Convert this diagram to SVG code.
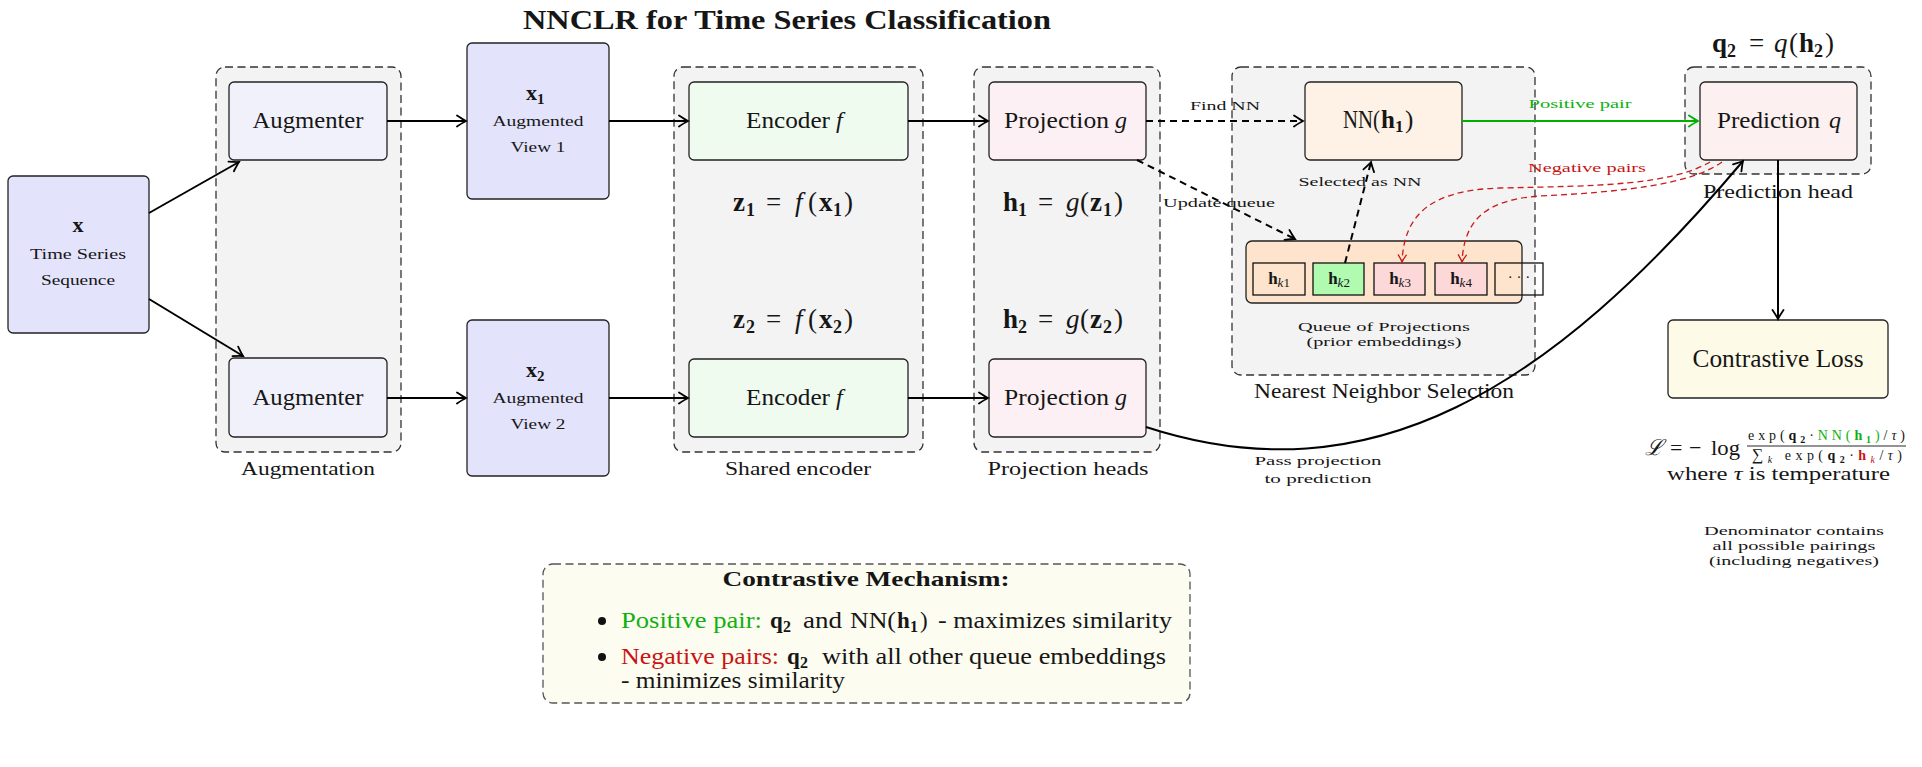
<svg xmlns="http://www.w3.org/2000/svg" width="1922" height="767" viewBox="0 0 1922 767">
<style>
.t{font-family:"Liberation Serif","DejaVu Serif",serif;fill:#161616}
.b{font-weight:bold}
.i{font-style:italic}
.cont{fill:#f3f3f3;stroke:#333;stroke-width:1.3;stroke-dasharray:8 4.5}
.box{stroke:#222;stroke-width:1.3}
.cell{stroke:#111;stroke-width:1.3}
.arr{fill:none;stroke:#000;stroke-width:2;marker-end:url(#ah)}
.dash{stroke-dasharray:7 5}
.neg{fill:none;stroke:#cc1a1a;stroke-width:1.3;stroke-dasharray:6 4;marker-end:url(#ahr)}
.pos{fill:none;stroke:#00b000;stroke-width:2.2;marker-end:url(#ahg)}
.lbl{font-size:24px}
.sm{font-size:13px}
.cap{font-size:19px}
.eq{font-size:27px}
.grn{fill:#10b010}
.red{fill:#c81414}
</style>
<defs>
<marker id="ah" viewBox="-11 -7 13 14" refX="0" refY="0" markerWidth="13" markerHeight="14" markerUnits="userSpaceOnUse" orient="auto">
<path d="M-9,-5.5 Q-3,-1.5 0,0 Q-3,1.5 -9,5.5" fill="none" stroke="#000" stroke-width="1.8" stroke-linecap="round" stroke-dasharray="none"/>
</marker>
<marker id="ahg" viewBox="-11 -7 13 14" refX="0" refY="0" markerWidth="13" markerHeight="14" markerUnits="userSpaceOnUse" orient="auto">
<path d="M-9,-5.5 Q-3,-1.5 0,0 Q-3,1.5 -9,5.5" fill="none" stroke="#00b000" stroke-width="1.9" stroke-linecap="round"/>
</marker>
<marker id="ahr" viewBox="-9 -6 11 12" refX="0" refY="0" markerWidth="11" markerHeight="12" markerUnits="userSpaceOnUse" orient="auto">
<path d="M-7,-4 Q-2.5,-1 0,0 Q-2.5,1 -7,4" fill="none" stroke="#cc1a1a" stroke-width="1.3" stroke-linecap="round" stroke-dasharray="none"/>
</marker>
</defs>
<rect width="1922" height="767" fill="#fff"/>

<text class="t b" x="787" y="29" font-size="27" text-anchor="middle" textLength="528" lengthAdjust="spacingAndGlyphs">NNCLR for Time Series Classification</text>

<!-- containers -->
<g id="augmentation-group">
<rect class="cont" x="216" y="67" width="185" height="385" rx="9"/>
<text class="t cap" x="308" y="475" text-anchor="middle" textLength="134" lengthAdjust="spacingAndGlyphs">Augmentation</text>
</g>
<g id="encoder-group">
<rect class="cont" x="674" y="67" width="249" height="385" rx="9"/>
<text class="t cap" x="798" y="475" text-anchor="middle" textLength="146" lengthAdjust="spacingAndGlyphs">Shared encoder</text>
</g>
<g id="projection-group">
<rect class="cont" x="974" y="67" width="186" height="385" rx="9"/>
<text class="t cap" x="1068" y="475" text-anchor="middle" textLength="161" lengthAdjust="spacingAndGlyphs">Projection heads</text>
</g>
<g id="nn-group">
<rect class="cont" x="1232" y="67" width="303" height="308" rx="9"/>
<text class="t" font-size="20" x="1384" y="398" text-anchor="middle" textLength="260" lengthAdjust="spacingAndGlyphs">Nearest Neighbor Selection</text>
</g>
<g id="prediction-group">
<rect class="cont" x="1685" y="67" width="186" height="107" rx="9"/>
<text class="t cap" x="1778" y="198" text-anchor="middle" textLength="150" lengthAdjust="spacingAndGlyphs">Prediction head</text>
</g>

<!-- nodes -->
<g id="input-x">
<rect class="box" x="8" y="176" width="141" height="157" rx="5" fill="#e3e3fc"/>
<text class="t b" x="78" y="232" font-size="22" text-anchor="middle">x</text>
<text class="t" x="78" y="259" font-size="14" text-anchor="middle" textLength="96" lengthAdjust="spacingAndGlyphs">Time Series</text>
<text class="t" x="78" y="285" font-size="14" text-anchor="middle" textLength="74" lengthAdjust="spacingAndGlyphs">Sequence</text>
</g>
<g id="augmenter-1">
<rect class="box" x="229" y="82" width="158" height="78" rx="5" fill="#f1f1fb"/>
<text class="t lbl" x="308" y="128" text-anchor="middle" textLength="111" lengthAdjust="spacingAndGlyphs">Augmenter</text>
</g>
<g id="augmenter-2">
<rect class="box" x="229" y="358" width="158" height="79" rx="5" fill="#f1f1fb"/>
<text class="t lbl" x="308" y="405" text-anchor="middle" textLength="111" lengthAdjust="spacingAndGlyphs">Augmenter</text>
</g>
<g id="view-1">
<rect class="box" x="467" y="43" width="142" height="156" rx="5" fill="#e3e3fc"/>
<text class="t b" y="100" font-size="22"><tspan x="526">x</tspan><tspan x="537" y="104" font-size="15">1</tspan></text>
<text class="t" x="538" y="126" font-size="14" text-anchor="middle" textLength="91" lengthAdjust="spacingAndGlyphs">Augmented</text>
<text class="t" x="538" y="152" font-size="14" text-anchor="middle" textLength="55" lengthAdjust="spacingAndGlyphs">View 1</text>
</g>
<g id="view-2">
<rect class="box" x="467" y="320" width="142" height="156" rx="5" fill="#e3e3fc"/>
<text class="t b" y="377" font-size="22"><tspan x="526">x</tspan><tspan x="537" y="381" font-size="15">2</tspan></text>
<text class="t" x="538" y="403" font-size="14" text-anchor="middle" textLength="91" lengthAdjust="spacingAndGlyphs">Augmented</text>
<text class="t" x="538" y="429" font-size="14" text-anchor="middle" textLength="55" lengthAdjust="spacingAndGlyphs">View 2</text>
</g>
<g id="encoder-1">
<rect class="box" x="689" y="82" width="219" height="78" rx="5" fill="#f0fbf0"/>
<text class="t lbl" y="128"><tspan x="746" textLength="84" lengthAdjust="spacingAndGlyphs">Encoder</tspan><tspan x="836" class="i">f</tspan></text>
</g>
<g id="encoder-2">
<rect class="box" x="689" y="359" width="219" height="78" rx="5" fill="#f0fbf0"/>
<text class="t lbl" y="405"><tspan x="746" textLength="84" lengthAdjust="spacingAndGlyphs">Encoder</tspan><tspan x="836" class="i">f</tspan></text>
</g>
<g id="eq-z">
<text class="t eq" y="211"><tspan x="733" class="b">z</tspan><tspan x="746" y="216" class="b" font-size="18">1</tspan><tspan x="766" y="211">=</tspan><tspan x="795" class="i">f</tspan><tspan x="808">(</tspan><tspan x="819" class="b">x</tspan><tspan x="833" y="216" class="b" font-size="18">1</tspan><tspan x="844" y="211">)</tspan></text>
<text class="t eq" y="328"><tspan x="733" class="b">z</tspan><tspan x="746" y="333" class="b" font-size="18">2</tspan><tspan x="766" y="328">=</tspan><tspan x="795" class="i">f</tspan><tspan x="808">(</tspan><tspan x="819" class="b">x</tspan><tspan x="833" y="333" class="b" font-size="18">2</tspan><tspan x="844" y="328">)</tspan></text>
</g>
<g id="projection-1">
<rect class="box" x="989" y="82" width="157" height="78" rx="5" fill="#fcf0f4"/>
<text class="t lbl" y="128"><tspan x="1004" textLength="105" lengthAdjust="spacingAndGlyphs">Projection</tspan><tspan x="1115" class="i">g</tspan></text>
</g>
<g id="projection-2">
<rect class="box" x="989" y="359" width="157" height="78" rx="5" fill="#fcf0f4"/>
<text class="t lbl" y="405"><tspan x="1004" textLength="105" lengthAdjust="spacingAndGlyphs">Projection</tspan><tspan x="1115" class="i">g</tspan></text>
</g>
<g id="eq-h">
<text class="t eq" y="211"><tspan x="1003" class="b">h</tspan><tspan x="1018" y="216" class="b" font-size="18">1</tspan><tspan x="1038" y="211">=</tspan><tspan x="1066" class="i">g</tspan><tspan x="1080">(</tspan><tspan x="1090" class="b">z</tspan><tspan x="1103" y="216" class="b" font-size="18">1</tspan><tspan x="1114" y="211">)</tspan></text>
<text class="t eq" y="328"><tspan x="1003" class="b">h</tspan><tspan x="1018" y="333" class="b" font-size="18">2</tspan><tspan x="1038" y="328">=</tspan><tspan x="1066" class="i">g</tspan><tspan x="1080">(</tspan><tspan x="1090" class="b">z</tspan><tspan x="1103" y="333" class="b" font-size="18">2</tspan><tspan x="1114" y="328">)</tspan></text>
</g>
<g id="nn-h1">
<rect class="box" x="1305" y="82" width="157" height="78" rx="5" fill="#fef1e5"/>
<text class="t" font-size="25" y="128"><tspan x="1343" textLength="37" lengthAdjust="spacingAndGlyphs">NN(</tspan><tspan x="1381" class="b">h</tspan><tspan x="1395" y="132" class="b" font-size="17">1</tspan><tspan x="1405" y="128">)</tspan></text>
</g>
<g id="queue">
<rect class="box" x="1246" y="241" width="276" height="62" rx="6" fill="#fee4cd"/>
<rect class="cell" x="1253" y="263" width="52" height="32" fill="#fee4cd"/>
<rect class="cell" x="1313" y="263" width="51" height="32" fill="#b0fbb0"/>
<rect class="cell" x="1374" y="263" width="51" height="32" fill="#fdd8d8"/>
<rect class="cell" x="1435" y="263" width="52" height="32" fill="#fdd8d8"/>
<rect class="cell" x="1495" y="263" width="48" height="32" fill="none"/>
<text class="t" x="1279" y="284" text-anchor="middle"><tspan class="b" font-size="17">h</tspan><tspan class="i" font-size="13" dy="3">k</tspan><tspan font-size="13">1</tspan></text>
<text class="t" x="1339" y="284" text-anchor="middle"><tspan class="b" font-size="17">h</tspan><tspan class="i" font-size="13" dy="3">k</tspan><tspan font-size="13">2</tspan></text>
<text class="t" x="1400" y="284" text-anchor="middle"><tspan class="b" font-size="17">h</tspan><tspan class="i" font-size="13" dy="3">k</tspan><tspan font-size="13">3</tspan></text>
<text class="t" x="1461" y="284" text-anchor="middle"><tspan class="b" font-size="17">h</tspan><tspan class="i" font-size="13" dy="3">k</tspan><tspan font-size="13">4</tspan></text>
<text class="t" x="1519" y="282" font-size="15" text-anchor="middle">· · ·</text>
<text class="t sm" x="1384" y="331" text-anchor="middle" textLength="172" lengthAdjust="spacingAndGlyphs">Queue of Projections</text>
<text class="t sm" x="1384" y="346" text-anchor="middle" textLength="155" lengthAdjust="spacingAndGlyphs">(prior embeddings)</text>
</g>
<g id="prediction-q">
<text class="t eq" y="52"><tspan x="1712" class="b">q</tspan><tspan x="1727" y="57" class="b" font-size="18">2</tspan><tspan x="1749" y="52">=</tspan><tspan x="1774" class="i">q</tspan><tspan x="1789">(</tspan><tspan x="1799" class="b">h</tspan><tspan x="1814" y="57" class="b" font-size="18">2</tspan><tspan x="1825" y="52">)</tspan></text>
<rect class="box" x="1700" y="82" width="157" height="78" rx="5" fill="#fdf0f0"/>
<text class="t lbl" y="128"><tspan x="1717" textLength="103" lengthAdjust="spacingAndGlyphs">Prediction</tspan><tspan x="1829" class="i">q</tspan></text>
</g>
<g id="contrastive-loss">
<rect class="box" x="1668" y="320" width="220" height="78" rx="5" fill="#fdfbe7"/>
<text class="t" font-size="25" x="1778" y="367" text-anchor="middle" textLength="171" lengthAdjust="spacingAndGlyphs">Contrastive Loss</text>
</g>
<g id="loss-formula">
<text class="t" font-size="22" y="455"><tspan x="1645" class="i">ℒ</tspan><tspan x="1670">=</tspan><tspan x="1689">−</tspan><tspan x="1711" textLength="29" lengthAdjust="spacingAndGlyphs">log</tspan></text>
<line x1="1747" y1="446" x2="1906" y2="446" stroke="#111" stroke-width="0.9"/>
<text class="t" font-size="14" x="1748" y="440" textLength="157" lengthAdjust="spacing">exp(<tspan class="b">q</tspan><tspan class="b" font-size="10" dy="3">2</tspan><tspan dy="-3">·</tspan><tspan class="grn">NN(</tspan><tspan class="b grn">h</tspan><tspan class="b grn" font-size="10" dy="3">1</tspan><tspan class="grn" dy="-3">)</tspan>/<tspan class="i">τ</tspan>)</text>
<text class="t" font-size="14" x="1752" y="460" textLength="150" lengthAdjust="spacing"><tspan font-size="16">∑</tspan><tspan class="i" font-size="10" dy="3">k</tspan><tspan dy="-3"> exp(</tspan><tspan class="b">q</tspan><tspan class="b" font-size="10" dy="3">2</tspan><tspan dy="-3">·</tspan><tspan class="b red">h</tspan><tspan class="i red" font-size="10" dy="3">k</tspan><tspan dy="-3">/</tspan><tspan class="i">τ</tspan>)</text>
<text class="t cap" x="1667" y="480" textLength="223" lengthAdjust="spacingAndGlyphs">where <tspan class="i">τ</tspan> is temperature</text>
<text class="t sm" x="1794" y="535" text-anchor="middle" textLength="180" lengthAdjust="spacingAndGlyphs">Denominator contains</text>
<text class="t sm" x="1794" y="550" text-anchor="middle" textLength="163" lengthAdjust="spacingAndGlyphs">all possible pairings</text>
<text class="t sm" x="1794" y="565" text-anchor="middle" textLength="170" lengthAdjust="spacingAndGlyphs">(including negatives)</text>
</g>
<g id="mechanism">
<rect x="543" y="564" width="647" height="139" rx="10" fill="#fdfcf0" stroke="#555" stroke-width="1.3" stroke-dasharray="8 4.5"/>
<text class="t b" font-size="21" x="866" y="586" text-anchor="middle" textLength="287" lengthAdjust="spacingAndGlyphs">Contrastive Mechanism:</text>
<circle cx="602" cy="621" r="4" fill="#111"/>
<circle cx="602" cy="657" r="4" fill="#111"/>
<text class="t" font-size="23" y="628"><tspan x="621" class="grn" textLength="141" lengthAdjust="spacingAndGlyphs">Positive pair:</tspan><tspan x="770" class="b">q</tspan><tspan x="783" y="632" class="b" font-size="16">2</tspan><tspan x="803" y="628" textLength="39" lengthAdjust="spacingAndGlyphs">and</tspan><tspan x="850" textLength="46" lengthAdjust="spacingAndGlyphs">NN(</tspan><tspan x="897" class="b">h</tspan><tspan x="910" y="632" class="b" font-size="16">1</tspan><tspan x="920" y="628">)</tspan><tspan x="938" textLength="234" lengthAdjust="spacingAndGlyphs">- maximizes similarity</tspan></text>
<text class="t" font-size="23" y="664"><tspan x="621" class="red" textLength="158" lengthAdjust="spacingAndGlyphs">Negative pairs:</tspan><tspan x="787" class="b">q</tspan><tspan x="800" y="668" class="b" font-size="16">2</tspan><tspan x="822" y="664" textLength="344" lengthAdjust="spacingAndGlyphs">with all other queue embeddings</tspan></text>
<text class="t" font-size="23" x="621" y="688" textLength="224" lengthAdjust="spacingAndGlyphs">- minimizes similarity</text>
</g>

<!-- connectors -->
<g id="connectors">
<path class="arr" d="M149,213 L239,162"/>
<path class="arr" d="M149,299 L243,356"/>
<path class="arr" d="M387,121 L466,121"/>
<path class="arr" d="M387,398 L466,398"/>
<path class="arr" d="M609,121 L688,121"/>
<path class="arr" d="M609,398 L688,398"/>
<path class="arr" d="M908,121 L988,121"/>
<path class="arr" d="M908,398 L988,398"/>
<path class="arr dash" d="M1146,121 L1303,121"/>
<path class="arr dash" d="M1137,160 L1295,239"/>
<path class="arr dash" d="M1345,263 L1371,162"/>
<path class="pos" d="M1462,121 L1698,121"/>
<path class="neg" d="M1710,162 C1670,185 1600,186 1500,188 C1430,190 1404,215 1402,262"/>
<path class="neg" d="M1722,162 C1690,185 1620,192 1540,196 C1480,200 1464,225 1462,262"/>
<path class="arr" d="M1146,427 C1370,500 1550,390 1743,161"/>
<path class="arr" d="M1778,160 L1778,319"/>
<text class="t sm" x="1225" y="110" text-anchor="middle" textLength="70" lengthAdjust="spacingAndGlyphs">Find NN</text>
<text class="t sm" x="1219" y="207" text-anchor="middle" textLength="112" lengthAdjust="spacingAndGlyphs">Update queue</text>
<text class="t sm" x="1360" y="186" text-anchor="middle" textLength="123" lengthAdjust="spacingAndGlyphs">Selected as NN</text>
<text class="t sm grn" x="1580" y="108" text-anchor="middle" textLength="103" lengthAdjust="spacingAndGlyphs">Positive pair</text>
<text class="t sm red" x="1587" y="172" text-anchor="middle" textLength="118" lengthAdjust="spacingAndGlyphs">Negative pairs</text>
<text class="t sm" x="1318" y="465" text-anchor="middle" textLength="127" lengthAdjust="spacingAndGlyphs">Pass projection</text>
<text class="t sm" x="1318" y="483" text-anchor="middle" textLength="107" lengthAdjust="spacingAndGlyphs">to prediction</text>
</g>
</svg>
